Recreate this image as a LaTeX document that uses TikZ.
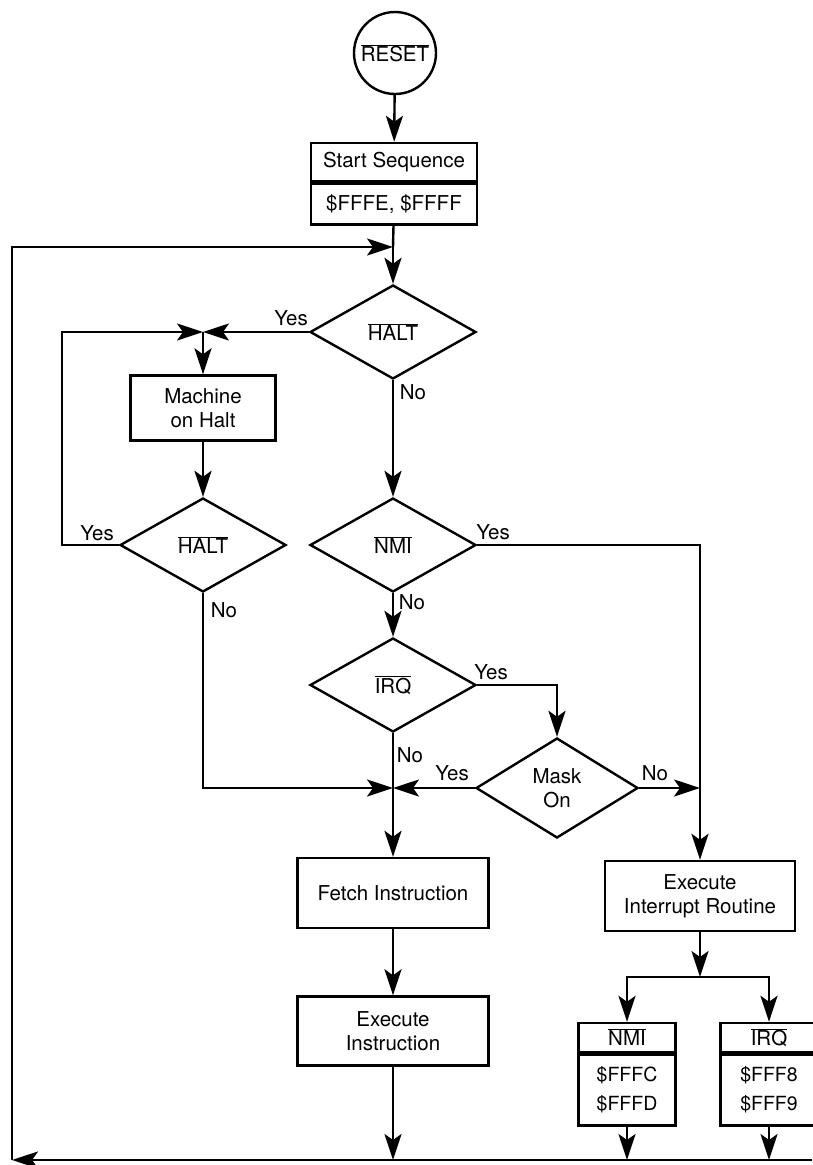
\documentclass[tikz,border=0pt]{standalone}
\usepackage{fontspec}
\setmainfont{TeX Gyre Heros}
\usetikzlibrary{arrows.meta,shapes.geometric}
\newcommand{\ovl}[1]{$\overline{\mbox{#1}}$}

\begin{document}
\begin{tikzpicture}[x=1pt, y=-1pt, line width=2.4pt,
    font=\fontsize{20.5}{24}\selectfont,
    >={Stealth[length=26pt,width=17pt,inset=6pt]},
    arrowline/.style={->},
    box/.style={draw, rectangle, inner sep=0pt, align=center},
    test/.style={draw, diamond, inner sep=0pt, align=center,
                 minimum width=166pt, minimum height=94pt},
    addr/.style={box, font=\fontsize{19.5}{29}\selectfont},
    lbl/.style={inner sep=0pt}]
    \useasboundingbox (0,0) rectangle (812,1165);

    % main column
    \node[draw, circle, minimum size=82pt, inner sep=0pt] (reset) at (395,53) {\ovl{RESET}};
    \node[box, minimum width=166pt, minimum height=38pt] (start) at (394,162) {Start Sequence};
    \node[box, minimum width=166pt, minimum height=41pt, anchor=north] (startvec) at (start.south) {\$FFFE, \$FFFF};
    \coordinate (jloop) at (393,247);
    \node[test] (halt) at (393,332) {\ovl{HALT}};
    \node[test] (nmi) at (393,545) {\ovl{NMI}};
    \node[test] (irq) at (393,685) {\ovl{IRQ}};
    \coordinate (jmerge) at (393,788);
    \node[box, minimum width=191pt, minimum height=70pt] (fetch) at (393,893) {Fetch Instruction};
    \node[box, minimum width=191pt, minimum height=69pt] (exec) at (393,1031) {Execute\\Instruction};

    % halt loop
    \coordinate (jhalt) at (203,332);
    \coordinate (cloop) at (62,332);
    \node[box, minimum width=145pt, minimum height=65pt] (machine) at (203,408) {Machine\\on Halt};
    \node[test] (halt2) at (203,545) {\ovl{HALT}};

    % interrupt branch
    \node[test, minimum width=162pt, minimum height=100pt] (mask) at (557,788) {Mask\\On};
    \coordinate (jint) at (700,788);
    \node[box, minimum width=190pt, minimum height=70pt] (intr) at (700,896) {Execute\\Interrupt Routine};
    \coordinate (jsplit) at (700,977);
    \node[box, minimum width=97pt, minimum height=29pt] (nmivec) at (627,1037.5) {\ovl{NMI}};
    \node[addr, minimum width=97pt, minimum height=71pt, anchor=north] (nmiaddr) at (nmivec.south) {\$FFFC\\\$FFFD};
    \node[box, minimum width=97pt, minimum height=29pt] (irqvec) at (769,1037.5) {\ovl{IRQ}};
    \node[addr, minimum width=97pt, minimum height=71pt, anchor=north] (irqaddr) at (irqvec.south) {\$FFF8\\\$FFF9};

    % return path
    \coordinate (bend) at (12,1160);
    \coordinate (bright) at (812,1160);

    \draw[arrowline] (reset) -- (start);
    \draw (startvec) -- (jloop);
    \draw[arrowline] (jloop) -- (halt);
    \draw[arrowline] (halt.west) -- (jhalt);
    \draw[arrowline] (jhalt) -- (machine);
    \draw[arrowline] (machine) -- (halt2);
    \draw[arrowline] (halt2.west) -| (cloop) -- (jhalt);
    \draw[arrowline] (halt.south) -- (nmi.north);
    \draw[arrowline] (nmi.south) -- (irq.north);
    \draw[arrowline] (irq.east) -| (mask.north);
    \draw[arrowline] (irq.south) -- (fetch.north);
    \draw[arrowline] (halt2.south) |- (jmerge);
    \draw[arrowline] (mask.west) -- (jmerge);
    \draw[arrowline] (mask.east) -- (jint);
    \draw[arrowline] (nmi.east) -| (intr.north);
    \draw[arrowline] (fetch) -- (exec);
    \draw[arrowline] (intr) -- (jsplit);
    \draw[arrowline] (jsplit) -| (nmivec.north);
    \draw[arrowline] (jsplit) -| (irqvec.north);
    \draw[arrowline] (nmiaddr.south) -- (nmiaddr.south |- bend);
    \draw[arrowline] (irqaddr.south) -- (irqaddr.south |- bend);
    \draw[arrowline] (exec.south) -- (exec.south |- bend);
    \draw[arrowline] (bright) -- (bend);
    \draw[arrowline] (bend) |- (jloop);

    % branch labels
    \node[lbl] (haltyes) at (291,318) {Yes};
    \node[lbl] (haltno) at (413,392) {No};
    \node[lbl] (halt2yes) at (97,533) {Yes};
    \node[lbl] (halt2no) at (224,610) {No};
    \node[lbl] (nmiyes) at (493,532) {Yes};
    \node[lbl] (nmino) at (412,602) {No};
    \node[lbl] (irqyes) at (491,672) {Yes};
    \node[lbl] (irqno) at (410,755) {No};
    \node[lbl] (maskyes) at (452,773) {Yes};
    \node[lbl] (maskno) at (655,773) {No};
\end{tikzpicture}
\end{document}
